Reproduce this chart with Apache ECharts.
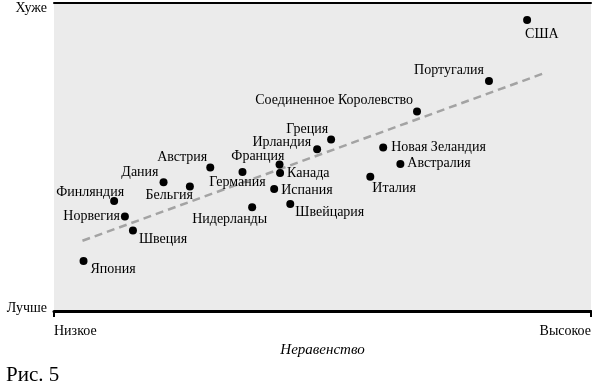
<!DOCTYPE html>
<html>
<head>
<meta charset="utf-8">
<script src="https://cdn.jsdelivr.net/npm/echarts@6/dist/echarts.min.js"></script>
<style>html,body{margin:0;padding:0;background:#fff;}#c{width:592px;height:385px;}</style>
</head>
<body>
<div id="c"></div>
<script>
// ---- data (abstract scale 0..100 on both axes) ----
const countries = ['США','Португалия','Соединенное Королевство','Греция','Ирландия','Новая Зеландия','Австралия','Италия','Канада','Франция','Испания','Швейцария','Нидерланды','Германия','Австрия','Дания','Бельгия','Финляндия','Норвегия','Швеция','Япония'];
const inequality = [88.1, 81.0, 67.6, 51.6, 49.0, 61.3, 64.5, 58.9, 42.1, 42.0, 41.0, 44.0, 36.9, 35.1, 29.1, 20.4, 25.3, 11.2, 13.2, 14.7, 5.5];
const socialIndex = [94.5, 74.7, 64.8, 55.7, 52.5, 53.1, 47.7, 43.6, 44.8, 47.6, 39.6, 34.7, 33.7, 45.1, 46.6, 41.8, 40.4, 35.7, 30.7, 26.1, 16.2];
const trendX = [5.3, 91.4];
const trendY = [22.8, 77.3];
const xTickLabels = ['Низкое', 'Высокое'];
const yTickLabels = ['Лучше', 'Хуже'];

// ---- label placement (style, not data): [align, dx, dy] ----
const labelPlace = [
  ['left', -2, 14], ['right', -5, -11], ['right', -4, -11], ['right', -3, -10], ['right', -6, -7],
  ['left', 8, 0], ['left', 7, -1], ['left', 2, 12], ['left', 7, 0], ['right', 5, -8],
  ['left', 7, 1], ['left', 5, 8], ['right', 15, 12], ['center', -5, 10], ['right', -3, -10],
  ['right', -5, -10], ['right', 3, 9], ['right', 10, -9], ['right', -5, 0], ['left', 6, 9], ['left', 7, 8]
];

const FONT = 'Liberation Serif';
const chart = echarts.init(document.getElementById('c'), null, {renderer: 'canvas'});

const scatterData = countries.map((c, i) => ({
  name: c,
  value: [inequality[i], socialIndex[i]],
  label: {align: labelPlace[i][0], offset: [labelPlace[i][1], labelPlace[i][2]]}
}));

chart.setOption({
  animation: false,
  backgroundColor: '#fff',
  title: {
    text: 'Рис. 5', left: 1, top: 360,
    textStyle: {fontFamily: FONT, fontSize: 21, fontWeight: 'normal', color: '#000'}
  },
  grid: {left: 54, right: 1, top: 3, bottom: 74, show: true, backgroundColor: '#ebebeb', borderWidth: 0,
         containLabel: false, outerBoundsMode: 'none'},
  xAxis: [{
    type: 'value', min: 0, max: 100, interval: 100, position: 'bottom',
    name: 'Неравенство', nameLocation: 'middle', nameGap: 22,
    nameTextStyle: {fontFamily: FONT, fontSize: 15, fontStyle: 'italic', color: '#000'},
    axisLine: {show: true, lineStyle: {color: '#000', width: 3}},
    axisTick: {show: true, length: 6, lineStyle: {color: '#000', width: 2}},
    splitLine: {show: false},
    axisLabel: {
      show: true, margin: 13, showMinLabel: true, showMaxLabel: true,
      alignMinLabel: 'left', alignMaxLabel: 'right',
      fontFamily: FONT, fontSize: 14, color: '#000',
      formatter: v => v === 0 ? xTickLabels[0] : (v === 100 ? xTickLabels[1] : '')
    }
  }, {
    type: 'value', min: 0, max: 100, position: 'top',
    axisLine: {show: true, lineStyle: {color: '#000', width: 2}},
    axisTick: {show: false}, axisLabel: {show: false}, splitLine: {show: false}
  }],
  yAxis: {
    type: 'value', min: 0, max: 100, interval: 100,
    name: 'Индекс социальных проблем', nameLocation: 'middle', nameGap: 31,
    nameTextStyle: {fontFamily: FONT, fontSize: 15.5, fontStyle: 'italic', color: '#000'},
    axisLine: {show: false}, axisTick: {show: false}, splitLine: {show: false},
    axisLabel: {
      show: true, margin: 7, fontFamily: FONT, fontSize: 14, color: '#000',
      formatter: v => v === 100 ? '{hi|' + yTickLabels[1] + '}' : (v === 0 ? '{lo|' + yTickLabels[0] + '}' : ''),
      rich: {
        hi: {fontFamily: FONT, fontSize: 14, color: '#000', padding: [10, 0, 0, 0]},
        lo: {fontFamily: FONT, fontSize: 14, color: '#000', padding: [0, 0, 6, 0]}
      }
    }
  },
  series: [{
    type: 'line',
    data: trendX.map((x, i) => [x, trendY[i]]),
    symbol: 'none',
    lineStyle: {color: '#a3a3a3', width: 2.5, type: [8, 5]},
    z: 1
  }, {
    type: 'scatter',
    data: scatterData,
    symbol: 'circle', symbolSize: 8,
    itemStyle: {color: '#000', opacity: 1},
    label: {show: true, position: 'inside', formatter: '{b}', color: '#000', fontFamily: FONT, fontSize: 14},
    z: 2
  }]
});
</script>
</body>
</html>
